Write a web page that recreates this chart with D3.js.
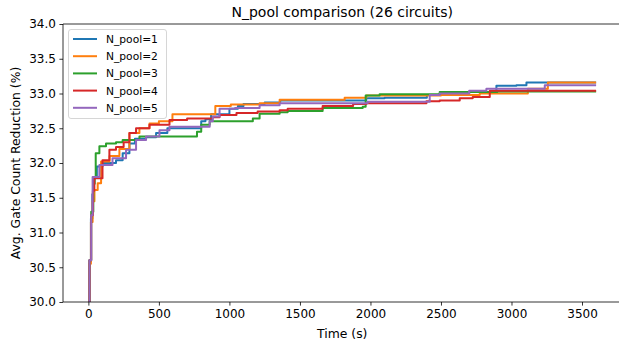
<!DOCTYPE html>
<html>
<head>
<meta charset="utf-8">
<script src="https://cdn.jsdelivr.net/npm/d3@7"></script>
<style>
  html, body { margin: 0; padding: 0; background: #fff; }
  svg { display: block; font-family: "DejaVu Sans", sans-serif; }
</style>
</head>
<body>
<svg id="chart" width="619" height="348"></svg>
<script>
const seriesNames = ["N_pool=1", "N_pool=2", "N_pool=3", "N_pool=4", "N_pool=5"];
const seriesColors = ["#1f77b4", "#ff7f0e", "#2ca02c", "#d62728", "#9467bd"];

const pool1 = [[0,30.0],[8,30.6],[18,31.2],[28,31.55],[40,31.8],[60,31.95],[100,32.0],[196,32.04],[243,32.14],[291,32.28],[330,32.35],[409,32.37],[480,32.43],[560,32.5],[800,32.6],[830,32.63],[870,32.7],[1000,32.78],[1060,32.82],[1100,32.85],[1250,32.87],[1360,32.9],[1800,32.9],[1970,32.93],[2100,32.94],[2400,32.98],[2491,33.0],[2700,33.02],[2893,33.11],[3035,33.12],[3106,33.16],[3600,33.16]];
const pool2 = [[0,30.0],[8,30.55],[18,31.15],[30,31.45],[43,31.61],[66,31.71],[90,32.02],[150,32.1],[220,32.2],[291,32.43],[362,32.5],[433,32.57],[500,32.6],[596,32.7],[894,32.7],[900,32.82],[1010,32.84],[1214,32.86],[1356,32.91],[1817,32.94],[1971,32.97],[2500,32.98],[2775,33.0],[3116,33.07],[3258,33.16],[3600,33.16]];
const pool3 = [[0,30.0],[8,30.6],[20,31.3],[35,31.7],[45,31.8],[52,32.14],[78,32.24],[125,32.28],[196,32.3],[243,32.33],[362,32.38],[740,32.38],[770,32.45],[800,32.55],[860,32.6],[1166,32.64],[1214,32.71],[1356,32.73],[1413,32.75],[1661,32.79],[1945,32.81],[1966,32.97],[2065,32.99],[2491,33.02],[2900,33.03],[3600,33.03]];
const pool4 = [[0,30.0],[8,30.6],[20,31.25],[32,31.6],[42,31.78],[100,32.04],[149,32.19],[196,32.23],[250,32.3],[291,32.43],[338,32.5],[433,32.55],[575,32.62],[700,32.64],[880,32.66],[930,32.69],[1050,32.72],[1200,32.74],[1356,32.76],[1413,32.78],[1661,32.82],[1877,32.85],[1971,32.86],[2397,32.89],[2491,32.9],[2633,32.93],[2725,32.95],[2846,33.04],[3600,33.04]];
const pool5 = [[0,30.0],[8,30.6],[20,31.25],[30,31.8],[78,31.97],[171,32.07],[267,32.19],[338,32.33],[409,32.38],[504,32.47],[575,32.52],[835,32.52],[860,32.6],[882,32.67],[930,32.78],[1040,32.79],[1214,32.83],[1356,32.86],[1980,32.88],[2397,32.88],[2420,32.98],[2491,33.0],[2700,33.04],[2822,33.07],[3236,33.12],[3600,33.12]];
const allSeries = [pool1, pool2, pool3, pool4, pool5];

const xTicks = [0, 500, 1000, 1500, 2000, 2500, 3000, 3500];
const yTicks = [30.0, 30.5, 31.0, 31.5, 32.0, 32.5, 33.0, 33.5, 34.0];

const titleText = "N_pool comparison (26 circuits)";
const xLabel = "Time (s)";
const yLabel = "Avg. Gate Count Reduction (%)";

const svg = d3.select("#chart");
const L = 63, R = 621.5, T = 24, B = 302;
const x = d3.scaleLinear().domain([-180, 3780]).range([L, R]);
const y = d3.scaleLinear().domain([30, 34]).range([B, T]);

svg.append("defs").append("clipPath").attr("id", "clip")
  .append("rect").attr("x", L).attr("y", T).attr("width", R - L).attr("height", B - T);

const line = d3.line().x(d => x(d[0])).y(d => y(d[1])).curve(d3.curveStepAfter);
const g = svg.append("g").attr("clip-path", "url(#clip)");
allSeries.forEach((s, i) => {
  g.append("path").attr("d", line(s)).attr("fill", "none")
    .attr("stroke", seriesColors[i]).attr("stroke-width", 2)
    .attr("stroke-linejoin", "round");
});

const fs = 12;
const xAxis = svg.append("g").attr("transform", `translate(0,${B})`)
  .call(d3.axisBottom(x).tickValues(xTicks).tickSize(3.6).tickPadding(3.5).tickFormat(d3.format("d")));
const yAxis = svg.append("g").attr("transform", `translate(${L},0)`)
  .call(d3.axisLeft(y).tickValues(yTicks).tickSize(3.6).tickPadding(3.5).tickFormat(d3.format(".1f")));
[xAxis, yAxis].forEach(a => {
  a.selectAll("text").attr("font-size", fs).attr("font-family", "DejaVu Sans").attr("fill", "#000");
  a.selectAll("line").attr("stroke", "#000").attr("stroke-width", 0.8);
  a.select(".domain").attr("stroke", "#000").attr("stroke-width", 0.8);
});
xAxis.select(".domain").attr("d", `M${L},0H${R}`);
yAxis.select(".domain").attr("d", `M0,${B}V${T}`);
// top spine
svg.append("line").attr("x1", L).attr("x2", R).attr("y1", T).attr("y2", T)
  .attr("stroke", "#000").attr("stroke-width", 0.8);

svg.append("text").attr("x", (L + R) / 2).attr("y", 17).attr("text-anchor", "middle")
  .attr("font-size", 14).text(titleText);
svg.append("text").attr("x", (L + R) / 2).attr("y", 338).attr("text-anchor", "middle")
  .attr("font-size", 12.4).text(xLabel);
svg.append("text").attr("transform", `translate(20,${(T + B) / 2}) rotate(-90)`)
  .attr("text-anchor", "middle").attr("font-size", 12.4).text(yLabel);

// legend
const lfs = 10.7;
const lg = svg.append("g");
lg.append("rect").attr("x", 68.5).attr("y", 29.5).attr("width", 98).attr("height", 89)
  .attr("rx", 2.5).attr("fill", "#fff").attr("fill-opacity", 0.8)
  .attr("stroke", "#cccccc").attr("stroke-width", 0.8);
seriesNames.forEach((n, i) => {
  const yy = 39 + i * 17.2;
  lg.append("line").attr("x1", 73).attr("x2", 97).attr("y1", yy).attr("y2", yy)
    .attr("stroke", seriesColors[i]).attr("stroke-width", 2);
  lg.append("text").attr("x", 106).attr("y", yy + 3.9).attr("font-size", lfs).text(n);
});
</script>
</body>
</html>
